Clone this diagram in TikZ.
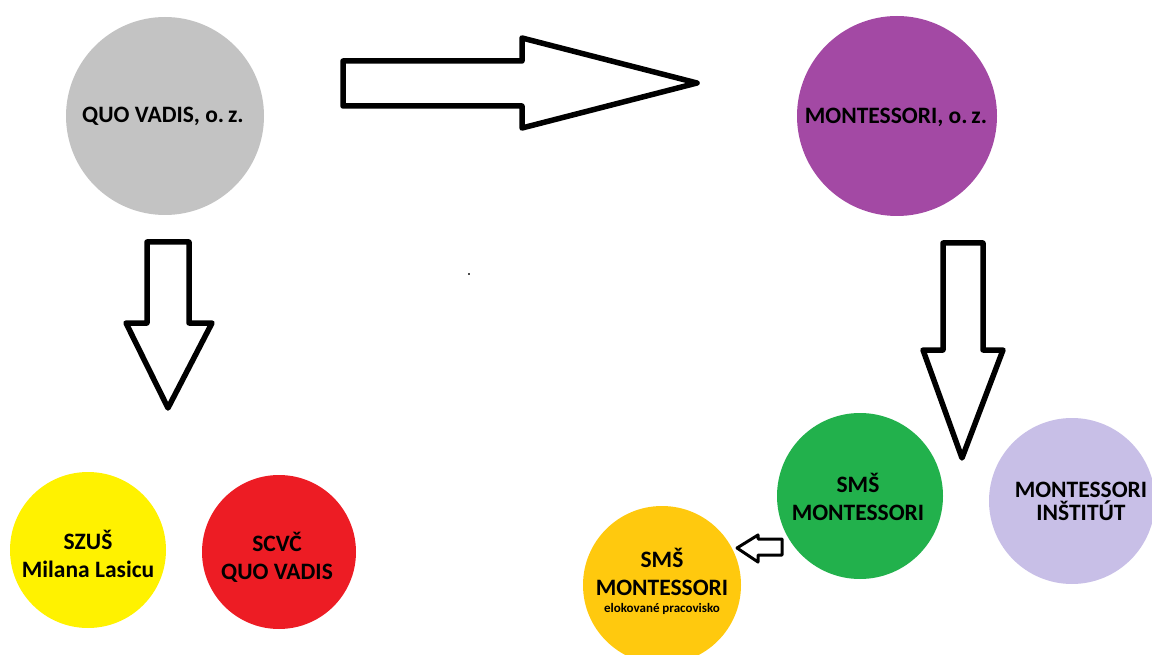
\documentclass[tikz,border=0pt]{standalone}
\usepackage{fontspec}
\setmainfont{Carlito}
\definecolor{cgray}{HTML}{C3C3C3}
\definecolor{cpurple}{HTML}{A349A4}
\definecolor{cgreen}{HTML}{22B14C}
\definecolor{clav}{HTML}{C8BFE7}
\definecolor{cyellow}{HTML}{FFF200}
\definecolor{cred}{HTML}{ED1C24}
\definecolor{corange}{HTML}{FFC90E}
\begin{document}
\begin{tikzpicture}[x=1pt,y=-1pt,
  disc/.style={circle,inner sep=0pt},
  lbl/.style={inner sep=0pt,align=center,font=\fontsize{23.5}{28}\selectfont\bfseries},
  blockarrow/.style={draw=black,line width=5.5pt,line join=round,fill=white},
  smallarrow/.style={draw=black,line width=3pt,line join=round,fill=white}]
\useasboundingbox (0,0) rectangle (1152,655);
\clip (0,0) rectangle (1152,655);
% circles
\node[disc,fill=cgray,minimum size=198pt] (qv) at (165,116) {};
\node[disc,fill=cpurple,minimum size=200pt] (mo) at (897,116) {};
\node[disc,fill=cgreen,minimum size=166pt] (sms) at (860,496) {};
\node[disc,fill=clav,minimum size=166pt] (mi) at (1072,501) {};
\node[disc,fill=cyellow,minimum size=156pt] (szus) at (88,550) {};
\node[disc,fill=cred,minimum size=154pt] (scvc) at (279,552) {};
\node[disc,fill=corange,minimum size=158pt] (smse) at (662,585) {};
% texts
\node[lbl] (qvtxt) at (163,116) {QUO VADIS, o.\,z.};
\node[lbl] (motxt) at (896,117) {MONTESSORI, o.\,z.};
\node[lbl] (smstxt) at (858,497) {SMŠ\\MONTESSORI};
\node[lbl,font=\fontsize{23.5}{23}\selectfont\bfseries] (mitxt) at (1081,501) {MONTESSORI\\INŠTITÚT};
\node[lbl] (szustxt) at (88,554) {SZUŠ\\Milana Lasicu};
\node[lbl] (scvctxt) at (277,557) {SCVČ\\QUO VADIS};
\node[lbl] (smsetxt) at (662,572) {SMŠ\\MONTESSORI};
\node[inner sep=0pt,font=\fontsize{13}{15}\selectfont\bfseries] (smsesub) at (662,609) {elokované pracovisko};
% block arrows
\draw[blockarrow] (343,61) -- (522,61) -- (522,38) -- (697,83) -- (522,128) -- (522,106) -- (343,106) -- cycle;
\draw[blockarrow] (147,242) -- (189,242) -- (189,323) -- (212,323) -- (168,408) -- (126,323) -- (147,323) -- cycle;
\draw[blockarrow] (943,243) -- (983,243) -- (983,350) -- (1003,350) -- (962,458) -- (923,350) -- (943,350) -- cycle;
\draw[smallarrow] (782,539) -- (758,539) -- (758,535) -- (737,548) -- (758,562) -- (758,555) -- (782,555) -- cycle;
% stray dot
\fill[black!70] (467.5,273) rectangle (469.5,275);
\end{tikzpicture}
\end{document}
